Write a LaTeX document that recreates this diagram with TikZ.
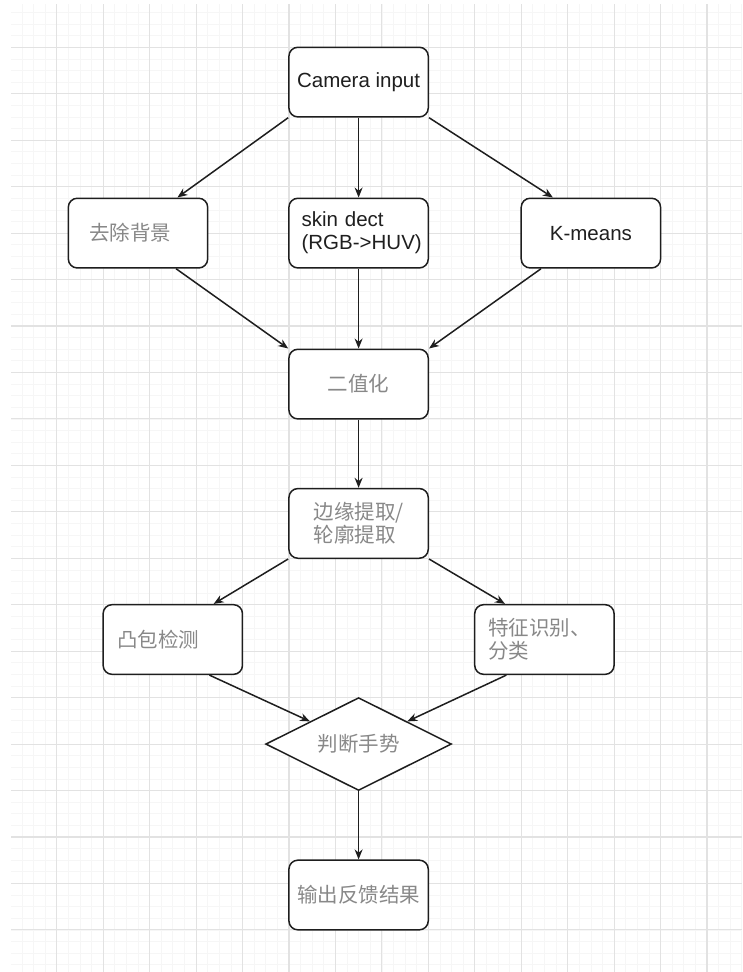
\documentclass[tikz,border=0pt]{standalone}
\usepackage{fontspec}
\setmainfont{Liberation Sans}
\newfontfamily\cjk{Noto Sans CJK SC}
\usetikzlibrary{shapes.geometric,arrows.meta,calc}
\definecolor{gridmajor}{HTML}{E2E2E2}
\definecolor{gridminor}{HTML}{F6F6F6}
\definecolor{linec}{HTML}{1E1E1E}
\definecolor{cjkgray}{HTML}{888888}
\begin{document}
\begin{tikzpicture}[x=1pt,y=-1pt,
  box/.style={draw=linec, line width=1.5pt, rounded corners=9pt, fill=white,
    minimum width=139.35pt, minimum height=69.7pt, inner sep=0pt,
    font=\fontsize{20.5}{23}\selectfont, text=black!88},
  cn/.style={font=\cjk\fontsize{20.5}{23}\selectfont, text=cjkgray},
  decision/.style={diamond, draw=linec, line width=1.5pt, fill=white,
    minimum width=185.8pt, minimum height=92.9pt, inner sep=0pt, aspect=2},
  arr/.style={draw=linec, line width=1.5pt, -{Stealth[length=10pt,width=8pt]}},
  gmin/.style={draw=gridminor, line width=0.7pt},
  gmaj/.style={draw=gridmajor, line width=1.1pt}]
\useasboundingbox (0,0) rectangle (742,972);
\fill[white] (0,0) rectangle (742,972);
\begin{scope}
  \clip (11,4) rectangle (742,972);
  \foreach \k in {-4,...,60} \draw[gmin] ({56.7+11.6125*\k},0) -- ({56.7+11.6125*\k},972);
  \foreach \k in {-4,...,80} \draw[gmin] (0,{47.3+11.6125*\k}) -- (742,{47.3+11.6125*\k});
  \foreach \k in {-1,...,15} \draw[gmaj] ({56.7+46.45*\k},0) -- ({56.7+46.45*\k},972);
  \foreach \k in {-1,...,20} \draw[gmaj] (0,{47.3+46.45*\k}) -- (742,{47.3+46.45*\k});
\end{scope}

\node[box] (cam) at (358.6,82.1) {Camera input};
\node[box,cn,text width=97.35pt,align=left] (bg) at (138.0,233.1) {去除背景};
\node[box,text width=114pt,align=left] (skin) at (358.6,233.1) {skin dect\\\mbox{(RGB->HUV)}};
\node[box] (km) at (590.9,233.1) {K-means};
\node[box,cn] (bin) at (358.6,384.1) {二值化\hspace{12pt}};
\node[box,cn,text width=89.35pt,align=left] (edge) at (358.6,523.4) {\mbox{边缘提取/}\\\mbox{轮廓提取}};
\node[box,cn,text width=111.35pt,align=left] (cvx) at (172.8,639.5) {凸包检测};
\node[box,cn,text width=112.5pt,align=left] (feat) at (544.4,639.5) {\mbox{特征识别、}\\分类};
\node[decision,cn] (dia) at (358.6,744.05) {判断手势\hspace{20pt}};
\node[box,cn] (out) at (358.6,895.0) {输出反馈结果};

\draw[arr] (cam.south west) -- ($(bg.north west)!0.78!(bg.north east)$);
\draw[arr] (cam.south) -- (skin.north);
\draw[arr] (cam.south east) -- ($(km.north west)!0.23!(km.north east)$);
\draw[arr] ($(bg.south west)!0.77!(bg.south east)$) -- (bin.north west);
\draw[arr] (skin.south) -- (bin.north);
\draw[arr] ($(km.south west)!0.146!(km.south east)$) -- (bin.north east);
\draw[arr] (bin.south) -- (edge.north);
\draw[arr] (edge.south west) -- ($(cvx.north west)!0.79!(cvx.north east)$);
\draw[arr] (edge.south east) -- ($(feat.north west)!0.22!(feat.north east)$);
\draw[arr] ($(cvx.south west)!0.76!(cvx.south east)$) -- ($(dia.west)!0.48!(dia.north)$);
\draw[arr] ($(feat.south west)!0.23!(feat.south east)$) -- ($(dia.east)!0.48!(dia.north)$);
\draw[arr] (dia.south) -- (out.north);
\end{tikzpicture}
\end{document}
